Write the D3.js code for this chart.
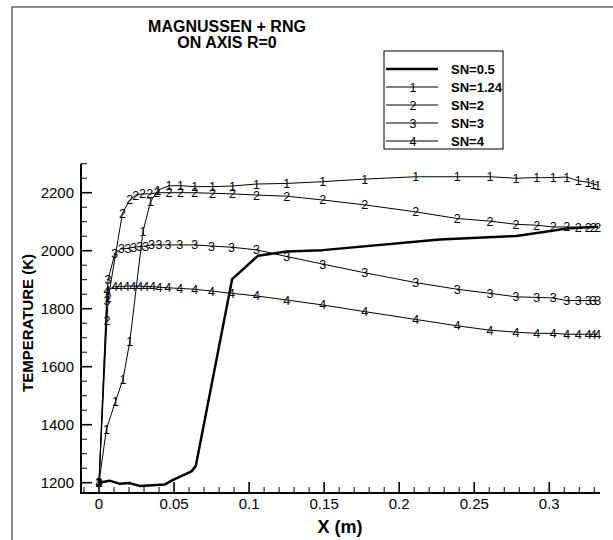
<!DOCTYPE html>
<html>
<head>
<meta charset="utf-8">
<title>magnussen_rng</title>
<script src="https://d3js.org/d3.v7.min.js"></script>
<style>
  body { margin: 0; background: #fff; }
  text { font-family: Arial, "Liberation Sans", sans-serif; }
  .marks { opacity: 0.999; }
</style>
</head>
<body>
<svg width="613" height="540" id="mainsvg"></svg>
<script>
// series data (x in m, temperature in K)
const sn05X = [0, 0.007, 0.014, 0.02, 0.027, 0.044, 0.049, 0.0616, 0.0645, 0.0887, 0.106, 0.125, 0.149, 0.227, 0.278, 0.302, 0.3116, 0.3325];
const sn05T = [1200, 1207, 1196, 1199, 1189, 1194, 1209, 1239, 1258, 1902, 1983, 1997, 2002, 2039, 2051, 2069, 2077, 2083];

const sn124X = [0, 0.0049, 0.0109, 0.016, 0.0205, 0.0293, 0.0343, 0.0393, 0.0467, 0.0543, 0.0638, 0.0756, 0.0889, 0.105, 0.125, 0.149, 0.177, 0.211, 0.2387, 0.2605, 0.2778, 0.2916, 0.3027, 0.3116, 0.3193, 0.326, 0.3293, 0.3323];
const sn124T = [1200, 1384, 1479, 1557, 1686, 2066, 2169, 2209, 2224, 2224, 2221, 2221, 2223, 2230, 2232, 2238, 2247, 2255, 2255, 2255, 2250, 2252, 2252, 2254, 2241, 2236, 2230, 2226];

const sn2X = [0, 0.0053, 0.0062, 0.0156, 0.0205, 0.0245, 0.0289, 0.0338, 0.0387, 0.0467, 0.0543, 0.0638, 0.0756, 0.0889, 0.105, 0.125, 0.149, 0.177, 0.211, 0.2387, 0.2605, 0.2778, 0.2916, 0.3027, 0.3116, 0.3193, 0.326, 0.3293, 0.3323];
const sn2T = [1200, 1760, 1837, 2129, 2175, 2192, 2196, 2196, 2200, 2200, 2200, 2200, 2198, 2196, 2192, 2188, 2175, 2158, 2134, 2111, 2102, 2091, 2088, 2082, 2082, 2081, 2081, 2081, 2081];

const sn3X = [0, 0.0053, 0.006, 0.0105, 0.0149, 0.0193, 0.0231, 0.0271, 0.0311, 0.0349, 0.04, 0.046, 0.0538, 0.0638, 0.0749, 0.0883, 0.105, 0.125, 0.149, 0.177, 0.211, 0.2387, 0.2605, 0.2778, 0.2916, 0.3027, 0.3116, 0.3193, 0.326, 0.3293, 0.3323];
const sn3T = [1200, 1829, 1899, 1989, 2008, 2008, 2012, 2014, 2016, 2020, 2020, 2020, 2020, 2020, 2016, 2012, 2003, 1980, 1954, 1924, 1890, 1867, 1853, 1841, 1839, 1837, 1828, 1828, 1828, 1828, 1828];

const sn4X = [0, 0.0053, 0.0105, 0.0138, 0.0183, 0.0227, 0.0271, 0.0311, 0.0356, 0.04, 0.046, 0.0538, 0.0638, 0.0749, 0.0883, 0.105, 0.125, 0.149, 0.177, 0.211, 0.2387, 0.2605, 0.2778, 0.2916, 0.3027, 0.3116, 0.3193, 0.326, 0.3293, 0.3323];
const sn4T = [1200, 1864, 1876, 1876, 1878, 1878, 1878, 1876, 1876, 1874, 1872, 1870, 1867, 1861, 1853, 1844, 1830, 1813, 1790, 1763, 1741, 1726, 1719, 1715, 1715, 1712, 1712, 1712, 1712, 1712];

const legendLabels = ['SN=0.5', 'SN=1.24', 'SN=2', 'SN=3', 'SN=4'];
const markerSymbols = ['', '1', '2', '3', '4'];
const xTicks = [0, 0.05, 0.1, 0.15, 0.2, 0.25, 0.3];
const yTicks = [1200, 1400, 1600, 1800, 2000, 2200];

const series = [
  { x: sn05X, t: sn05T },
  { x: sn124X, t: sn124T },
  { x: sn2X, t: sn2T },
  { x: sn3X, t: sn3T },
  { x: sn4X, t: sn4T }
].map((s, i) => ({
  label: legendLabels[i],
  mark: markerSymbols[i],
  pts: s.x.map((v, j) => [v, s.t[j]])
}));

const svg = d3.select('#mainsvg');

// outer frame (only top and left edges visible)
svg.append('rect')
  .attr('x', 12).attr('y', 7).attr('width', 640).attr('height', 560)
  .attr('fill', 'none').attr('stroke', '#666').attr('stroke-width', 1.5);

const pLeft = 81, pRight = 600, pTop = 164, pBottom = 493;
const x = d3.scaleLinear().domain([-0.012, 0.3338]).range([pLeft, pRight]);
const y = d3.scaleLinear().domain([1164.5, 2299]).range([pBottom, pTop]);

const g = svg.append('g');

// minor ticks
const xMinor = d3.range(-0.01, 0.3301, 0.01).filter(v => Math.abs(v / 0.05 - Math.round(v / 0.05)) > 1e-6);
const yMinor = d3.range(1200, 2301, 50).filter(v => v % 200 !== 0);

g.selectAll('.xminor').data(xMinor).enter().append('line')
  .attr('x1', d => x(d)).attr('x2', d => x(d))
  .attr('y1', pBottom).attr('y2', pBottom - 6)
  .attr('stroke', '#000').attr('stroke-width', 1);
g.selectAll('.yminor').data(yMinor).enter().append('line')
  .attr('y1', d => y(d)).attr('y2', d => y(d))
  .attr('x1', pLeft).attr('x2', pLeft + 6)
  .attr('stroke', '#000').attr('stroke-width', 1);

// major ticks + labels
g.selectAll('.xmajor').data(xTicks).enter().append('line')
  .attr('x1', d => x(d)).attr('x2', d => x(d))
  .attr('y1', pBottom).attr('y2', pBottom - 11)
  .attr('stroke', '#000').attr('stroke-width', 1.6);
g.selectAll('.ymajor').data(yTicks).enter().append('line')
  .attr('y1', d => y(d)).attr('y2', d => y(d))
  .attr('x1', pLeft).attr('x2', pLeft + 11)
  .attr('stroke', '#000').attr('stroke-width', 1.6);

g.selectAll('.xlab').data(xTicks).enter().append('text')
  .attr('x', d => x(d)).attr('y', 509)
  .attr('text-anchor', 'middle').attr('font-size', 15)
  .text(d => d3.format('~g')(d));
g.selectAll('.ylab').data(yTicks).enter().append('text')
  .attr('x', 74).attr('y', d => y(d) + 5)
  .attr('text-anchor', 'end').attr('font-size', 15)
  .text(d => d);

// axis lines
g.append('line').attr('x1', pLeft).attr('x2', pLeft).attr('y1', pTop).attr('y2', pBottom + 1)
  .attr('stroke', '#000').attr('stroke-width', 2);
g.append('line').attr('x1', pLeft - 1).attr('x2', pRight).attr('y1', pBottom).attr('y2', pBottom)
  .attr('stroke', '#000').attr('stroke-width', 2);

// axis titles
svg.append('text').attr('x', 340).attr('y', 533)
  .attr('text-anchor', 'middle').attr('font-size', 18).attr('font-weight', 'bold')
  .text('X (m)');
svg.append('text').attr('transform', 'translate(33,323) rotate(-90)')
  .attr('text-anchor', 'middle').attr('font-size', 15).attr('font-weight', 'bold')
  .text('TEMPERATURE (K)');

// title
svg.append('text').attr('x', 227).attr('y', 32)
  .attr('text-anchor', 'middle').attr('font-size', 16).attr('font-weight', 'bold')
  .text('MAGNUSSEN + RNG');
svg.append('text').attr('x', 227).attr('y', 48)
  .attr('text-anchor', 'middle').attr('font-size', 16).attr('font-weight', 'bold')
  .text('ON AXIS R=0');

// lines with digit markers at each point
const line = d3.line().x(d => x(d[0])).y(d => y(d[1]));
series.slice(1).forEach(s => {
  g.append('path').datum(s.pts).attr('d', line)
    .attr('fill', 'none').attr('stroke', '#000').attr('stroke-width', 1);
  g.append('g').attr('class', 'marks')
    .selectAll('text').data(s.pts).enter().append('text')
    .attr('x', d => x(d[0])).attr('y', d => y(d[1]) + 4.5)
    .attr('text-anchor', 'middle').attr('font-size', 12.5).attr('fill', '#000')
    .text(s.mark);
});
g.append('path').datum(series[0].pts).attr('d', line)
  .attr('fill', 'none').attr('stroke', '#000').attr('stroke-width', 2.5)
  .attr('stroke-linejoin', 'round');

// legend
const lg = svg.append('g');
lg.append('rect').attr('x', 384).attr('y', 51).attr('width', 119).attr('height', 98)
  .attr('fill', '#fff').attr('stroke', '#000').attr('stroke-width', 1);
series.forEach((s, i) => {
  const ry = 69 + i * 18;
  lg.append('line').attr('x1', 386).attr('x2', 438).attr('y1', ry).attr('y2', ry)
    .attr('stroke', '#000').attr('stroke-width', i === 0 ? 2.5 : 1);
  if (s.mark) {
    lg.append('text').attr('class', 'marks').attr('x', 413).attr('y', ry + 4.5)
      .attr('text-anchor', 'middle').attr('font-size', 12.5).text(s.mark);
  }
  lg.append('text').attr('x', 451).attr('y', ry + 5)
    .attr('font-size', 13).attr('font-weight', 'bold').text(s.label);
});
</script>
</body>
</html>
